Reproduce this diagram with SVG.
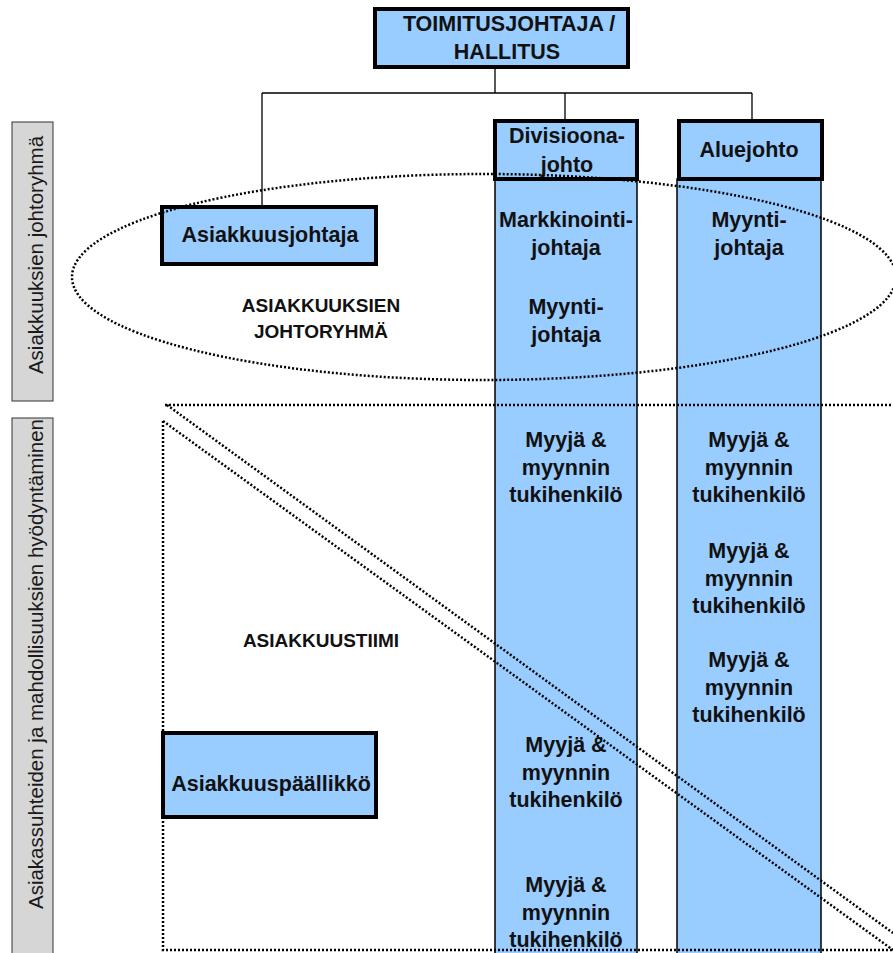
<svg xmlns="http://www.w3.org/2000/svg" width="893" height="953" viewBox="0 0 893 953">
<style>
.t{font-family:"Liberation Sans",Arial,sans-serif;font-weight:bold;font-size:21.5px;fill:#111;text-anchor:middle}
.c{font-family:"Liberation Sans",Arial,sans-serif;font-weight:bold;font-size:19px;fill:#111;text-anchor:middle}
.side{font-family:"Liberation Sans",Arial,sans-serif;font-size:20.5px;fill:#1a1a1a;text-anchor:middle}
.box{fill:#99ccff;stroke:#000;stroke-width:4}
.col{fill:#99ccff;stroke:#000;stroke-width:1.5}
.gray{fill:#d6d6d6;stroke:#333;stroke-width:1}
.dot{fill:none;stroke:#000;stroke-width:2.5;stroke-dasharray:2 2}
.ln{fill:none;stroke:#000;stroke-width:1.3}
</style>
<rect width="893" height="953" fill="#fff"/>
<g id="side-labels">
<rect class="gray" x="12" y="122" width="41" height="279"/>
<text class="side" transform="translate(43,255) rotate(-90)">Asiakkuuksien johtoryhmä</text>
<rect class="gray" x="12" y="418" width="41" height="540"/>
<text class="side" transform="translate(43,664) rotate(-90)">Asiakassuhteiden ja mahdollisuuksien hyödyntäminen</text>
</g>
<g id="connectors">
<path class="ln" d="M495,67 V93 M262,93 H752 M262,93 V207 M565,93 V121 M752,93 V121"/>
</g>
<g id="col-divisioona">
<rect class="col" x="495" y="179" width="142" height="790"/>
</g>
<g id="col-aluejohto">
<rect class="col" x="677" y="179" width="144" height="790"/>
</g>
<g id="toimitusjohtaja">
<rect class="box" x="375" y="9" width="253" height="58"/>
<text class="t" x="509" y="31">TOIMITUSJOHTAJA /</text>
<text class="t" x="507" y="59">HALLITUS</text>
</g>
<g id="divisioonajohto">
<rect class="box" x="495" y="121" width="142" height="58"/>
</g>
<g id="aluejohto">
<rect class="box" x="679" y="121" width="143" height="58"/>
<text class="t" x="749" y="157">Aluejohto</text>
</g>
<g id="asiakkuusjohtaja">
<rect class="box" x="162" y="207" width="214" height="57"/>
<text class="t" x="270" y="242">Asiakkuusjohtaja</text>
</g>
<g id="asiakkuuspaallikko">
<rect class="box" x="163" y="733" width="213" height="84"/>
<text class="t" x="271" y="791">Asiakkuuspäällikkö</text>
</g>
<g id="dotted-groups">
<ellipse class="dot" cx="484" cy="277" rx="412" ry="103"/>
<path class="dot" d="M165,405 H893"/>
<path class="dot" d="M167,405 L893,933"/>
<path class="dot" d="M163,421 L893,950"/>
<path class="dot" d="M163,421 V950 H893"/>
</g>
<g id="divisioonajohto-label">
<text class="t" x="567" y="143">Divisioona-</text>
<text class="t" x="567" y="172">johto</text>
</g>
<g id="div-markkinointijohtaja">
<text class="t" x="566" y="227">Markkinointi-</text>
<text class="t" x="566" y="255">johtaja</text>
</g>
<g id="div-myyntijohtaja">
<text class="t" x="566" y="314">Myynti-</text>
<text class="t" x="566" y="342">johtaja</text>
</g>
<g id="alue-myyntijohtaja">
<text class="t" x="749" y="227">Myynti-</text>
<text class="t" x="749" y="255">johtaja</text>
</g>
<g id="div-myyja-1">
<text class="t" x="566" y="447">Myyjä &amp;</text>
<text class="t" x="566" y="475">myynnin</text>
<text class="t" x="566" y="502">tukihenkilö</text>
</g>
<g id="div-myyja-2">
<text class="t" x="566" y="752">Myyjä &amp;</text>
<text class="t" x="566" y="780">myynnin</text>
<text class="t" x="566" y="807">tukihenkilö</text>
</g>
<g id="div-myyja-3">
<text class="t" x="566" y="892">Myyjä &amp;</text>
<text class="t" x="566" y="920">myynnin</text>
<text class="t" x="566" y="947">tukihenkilö</text>
</g>
<g id="alue-myyja-1">
<text class="t" x="749" y="447">Myyjä &amp;</text>
<text class="t" x="749" y="475">myynnin</text>
<text class="t" x="749" y="502">tukihenkilö</text>
</g>
<g id="alue-myyja-2">
<text class="t" x="749" y="558">Myyjä &amp;</text>
<text class="t" x="749" y="586">myynnin</text>
<text class="t" x="749" y="613">tukihenkilö</text>
</g>
<g id="alue-myyja-3">
<text class="t" x="749" y="667">Myyjä &amp;</text>
<text class="t" x="749" y="695">myynnin</text>
<text class="t" x="749" y="722">tukihenkilö</text>
</g>
<g id="johtoryhma-label">
<text class="c" x="321" y="312">ASIAKKUUKSIEN</text>
<text class="c" x="321" y="338">JOHTORYHMÄ</text>
</g>
<g id="asiakkuustiimi-label">
<text class="c" x="321" y="647">ASIAKKUUSTIIMI</text>
</g>
</svg>
